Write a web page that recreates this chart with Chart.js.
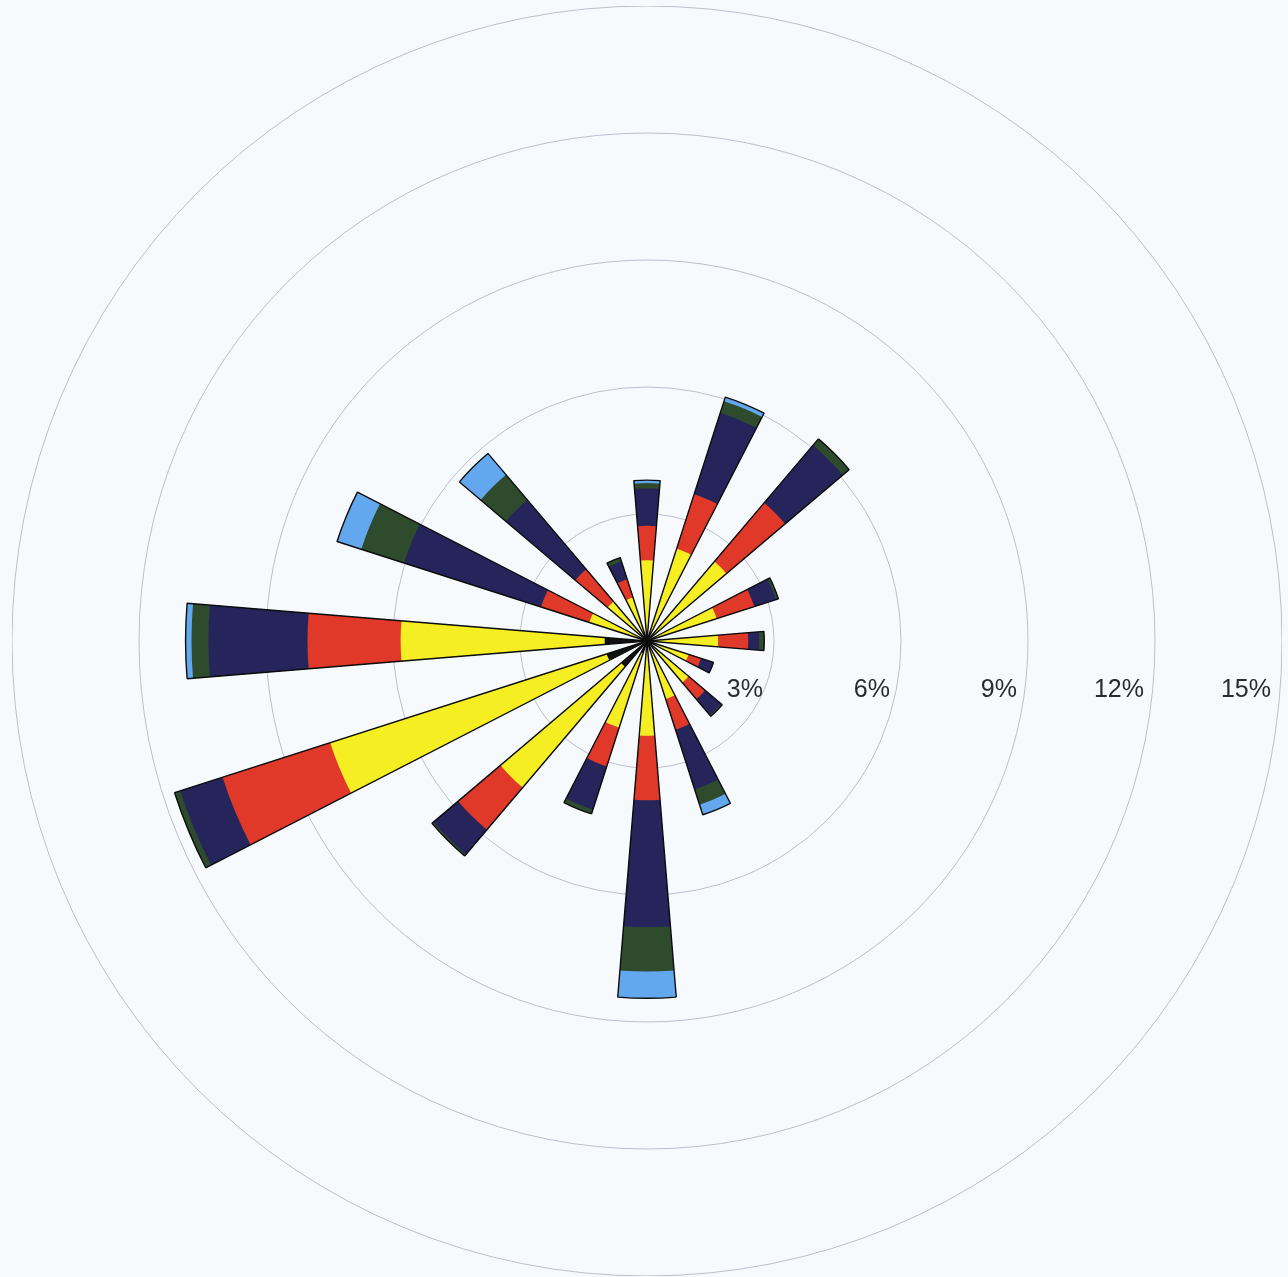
<!DOCTYPE html>
<html lang="en">
<head>
  <meta charset="UTF-8" />
  <title>Wind rose</title>
  <style>
    html, body { margin: 0; padding: 0; background: #f6fafd; }
    .chart-box { position: absolute; left: 12px; top: 6px; width: 1270px; height: 1270px; }
  </style>
</head>
<body>

<div class="chart-box">
  <canvas id="roseChart"></canvas>
</div>

<script src="https://cdn.jsdelivr.net/npm/chart.js"></script>
<script>
  // 16 directions, clockwise from north
  const directions = ['N', 'NNE', 'NE', 'ENE', 'E', 'ESE', 'SE', 'SSE',
                      'S', 'SSW', 'SW', 'WSW', 'W', 'WNW', 'NW', 'NNW'];

  // share of time (%) per speed class, innermost class first
  const classBlack  = [0, 0, 0, 0, 0, 0, 0, 0, 0, 0.3, 0.8, 1.0, 1.0, 0, 0, 0];
  const classYellow = [1.91, 2.29, 2.46, 1.73, 1.68, 1.03, 1.29, 1.44, 2.24, 1.85, 3.74, 6.86, 4.82, 1.43, 1.22, 1.08];
  const classRed    = [0.81, 1.35, 1.82, 0.93, 0.71, 0.31, 0.51, 0.76, 1.52, 0.96, 1.31, 2.67, 2.20, 1.20, 1.00, 0.45];
  const classNavy   = [0.89, 2.02, 1.78, 0.54, 0.26, 0.31, 0.49, 1.48, 3.00, 1.07, 0.76, 1.05, 2.34, 3.40, 2.15, 0.44];
  const classGreen  = [0.12, 0.29, 0.20, 0.06, 0.12, 0, 0.04, 0.38, 1.05, 0.11, 0.05, 0.14, 0.40, 1.06, 0.78, 0.10];
  const classBlue   = [0.07, 0.10, 0, 0, 0, 0, 0, 0.25, 0.63, 0, 0, 0, 0.14, 0.60, 0.66, 0];

  const tickValues = [3, 6, 9, 12, 15];

  const classes = [classBlack, classYellow, classRed, classNavy, classGreen, classBlue];
  const colors = ['#111111', '#f4ee22', '#e0392a', '#25255c', '#2f4b2d', '#63a8ef'];

  const barAngle = 9.4;   // degrees of each wedge, rest of the 22.5 is gap

  // stacked totals so each layer can be drawn as its own polar area set
  let running = directions.map(() => 0);
  const cumulative = classes.map(vals => {
    running = running.map((v, i) => v + vals[i]);
    return running;
  });

  // every direction is followed by an empty gap slot
  const withGaps = arr => arr.flatMap(v => [v, 0]);

  const datasets = cumulative.map((vals, k) => ({
    data: withGaps(vals),
    backgroundColor: colors[k],
    borderWidth: 0
  }));

  // outline on top of everything
  datasets.unshift({
    data: withGaps(cumulative[cumulative.length - 1]),
    backgroundColor: 'rgba(0,0,0,0)',
    borderColor: '#0c0c0c',
    borderWidth: ctx => (ctx.dataIndex % 2 ? 0 : 1.4)
  });

  datasets.forEach(ds => {
    ds.angle = ctx => (ctx.dataIndex % 2 ? 22.5 - barAngle : barAngle);
  });

  const ringLabels = {
    id: 'ringLabels',
    afterDraw(chart) {
      const r = chart.scales.r;
      const ctx = chart.ctx;
      ctx.save();
      ctx.font = '25px "Liberation Sans", Arial, sans-serif';
      ctx.fillStyle = '#2b2b2b';
      ctx.textAlign = 'right';
      ctx.textBaseline = 'alphabetic';
      tickValues.forEach(v => {
        const d = r.getDistanceFromCenterForValue(v);
        ctx.fillText(v + '%', r.xCenter + d - 11, r.yCenter + 56);
      });
      ctx.restore();
    }
  };

  new Chart(document.getElementById('roseChart'), {
    type: 'polarArea',
    data: {
      labels: directions.flatMap(d => [d, '']),
      datasets: datasets
    },
    options: {
      responsive: true,
      maintainAspectRatio: false,
      animation: false,
      layout: { padding: 0 },
      plugins: {
        legend: { display: false },
        tooltip: { enabled: false }
      },
      scales: {
        r: {
          min: 0,
          max: 15,
          startAngle: -barAngle / 2,
          ticks: { display: false, stepSize: 3 },
          grid: { circular: true, color: '#bdbdcc', lineWidth: 1 },
          angleLines: { display: false },
          pointLabels: { display: false }
        }
      }
    },
    plugins: [ringLabels]
  });
</script>

</body>
</html>
